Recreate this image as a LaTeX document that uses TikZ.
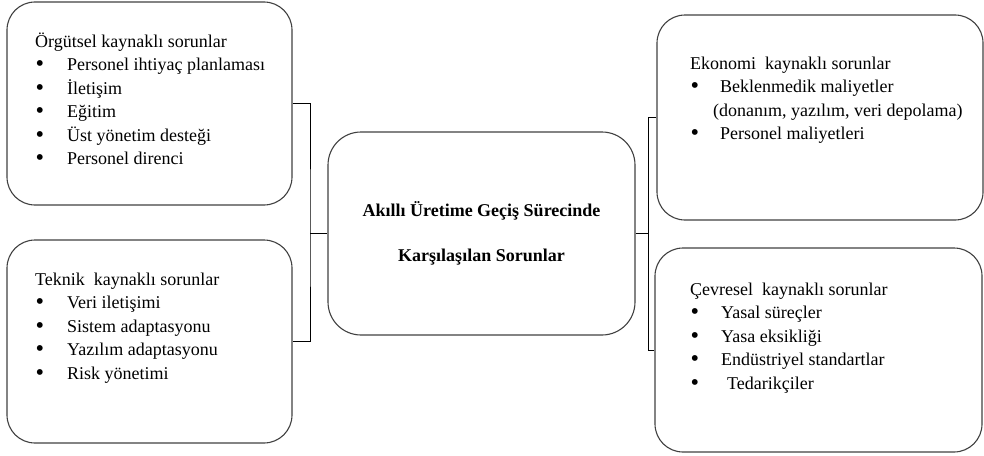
\documentclass[tikz,border=0pt]{standalone}
\usepackage{fontspec}
\setmainfont{Liberation Serif}
\newcommand{\madde}[2][32pt]{\makebox[#1][l]{\hspace{0.5pt}\raisebox{-1.2pt}{\scalebox{1.35}{\textbullet}}}#2}
\tikzset{
  kutu/.style={draw=black!75, line width=1.1pt, rounded corners=28pt,
    minimum width=285pt, minimum height=203pt, inner sep=0pt},
  liste/.style={anchor=base west, inner sep=0pt,
    font=\fontsize{18}{23.5}\selectfont},
  baglanti/.style={draw=black, line width=0.9pt}
}
\begin{document}
\begin{tikzpicture}[x=1pt,y=-1pt]
  \useasboundingbox (0,0) rectangle (984,455);

  % kutular
  \node[kutu] (org) at (149.5,103.5) {};
  \node[kutu] (tek) at (149.5,341.5) {};
  \node[kutu, minimum width=307pt, rounded corners=33pt, align=center,
    font=\fontsize{18}{23.5}\selectfont\bfseries] (ana) at (481.5,233.5)
    {Akıllı Üretime Geçiş Sürecinde\\[21.5pt] Karşılaşılan Sorunlar};
  \node[kutu, minimum width=326pt, minimum height=205pt] (eko) at (820,117.5) {};
  \node[kutu, minimum width=327pt, minimum height=204pt] (cev) at (818.5,350) {};

  % metinler
  \node[liste] (orgmetin) at (35,47) {\begin{tabular}[t]{@{}l@{}}
      Örgütsel kaynaklı sorunlar\\
      \madde{Personel ihtiyaç planlaması}\\
      \madde{İletişim}\\
      \madde{Eğitim}\\
      \madde{Üst yönetim desteği}\\
      \madde{Personel direnci}
    \end{tabular}};
  \node[liste] (tekmetin) at (35,285) {\begin{tabular}[t]{@{}l@{}}
      Teknik~ kaynaklı sorunlar\\
      \madde{Veri iletişimi}\\
      \madde{Sistem adaptasyonu}\\
      \madde{Yazılım adaptasyonu}\\
      \madde{Risk yönetimi}
    \end{tabular}};
  \node[liste] (ekometin) at (690,69) {\begin{tabular}[t]{@{}l@{}}
      Ekonomi~ kaynaklı sorunlar\\
      \madde[30pt]{Beklenmedik maliyetler}\\
      \hspace*{23pt}(donanım, yazılım, veri depolama)\\
      \madde[30pt]{Personel maliyetleri}
    \end{tabular}};
  \node[liste] (cevmetin) at (690,295) {\begin{tabular}[t]{@{}l@{}}
      Çevresel~ kaynaklı sorunlar\\
      \madde[31pt]{Yasal süreçler}\\
      \madde[31pt]{Yasa eksikliği}\\
      \madde[31pt]{Endüstriyel standartlar}\\
      \madde[37pt]{Tedarikçiler}
    \end{tabular}};

  % baglantilar
  \coordinate (sol) at (310,233.5);
  \coordinate (sag) at (648,233.5);
  \draw[baglanti] (org.east) -| (sol) |- (tek.east);
  \draw[baglanti] (sol) -- (ana.west);
  \draw[baglanti] (eko.west) -| (sag) |- (cev.west);
  \draw[baglanti] (ana.east) -- (sag);
\end{tikzpicture}
\end{document}
